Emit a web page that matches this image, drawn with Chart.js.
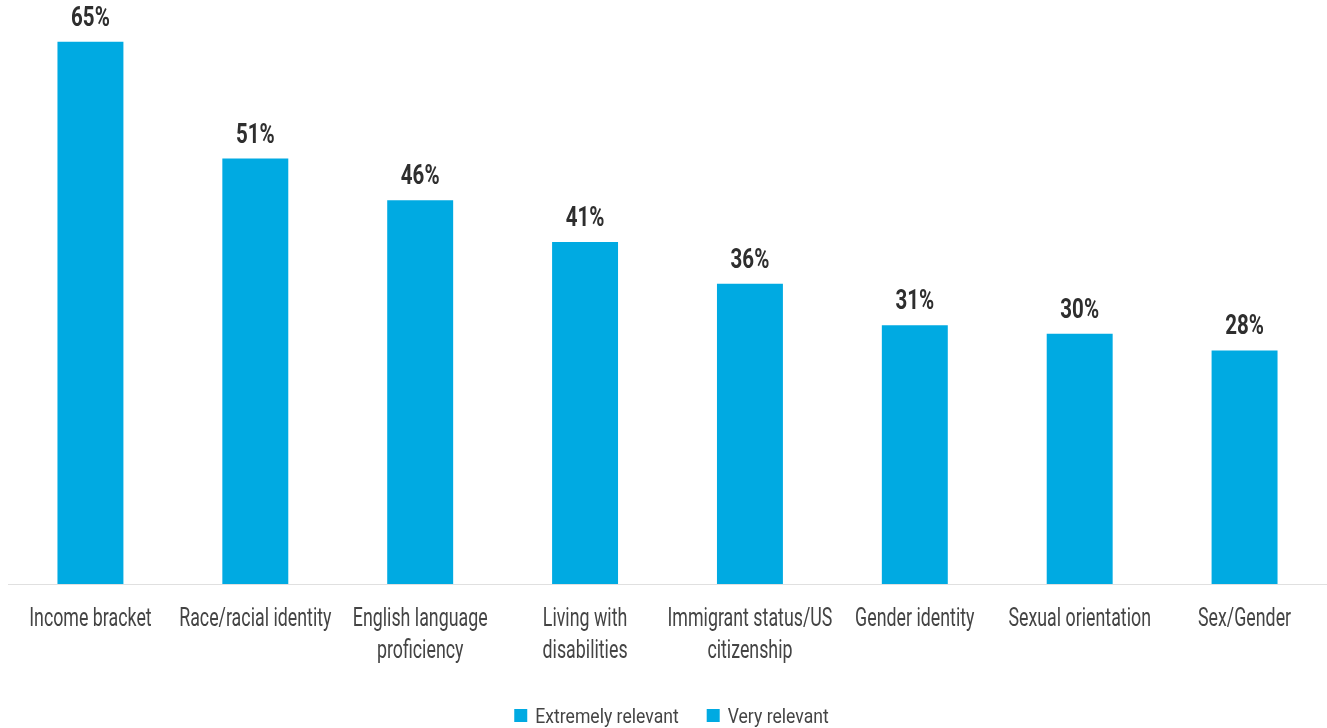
<!DOCTYPE html>
<html>
<head>
<meta charset="utf-8">
<script src="https://cdn.jsdelivr.net/npm/chart.js@4.4.1/dist/chart.umd.min.js"></script>
<style>
  html, body { margin: 0; padding: 0; background: #fff; }
  #wrap { width: 1327px; height: 728px; }
</style>
</head>
<body>
<div id="wrap"><canvas id="chart"></canvas></div>
<script>
// datos
const categorias = [
    'Income bracket',
    'Race/racial identity',
    ['English language', 'proficiency'],
    ['Living with', 'disabilities'],
    ['Immigrant status/US', 'citizenship'],
    'Gender identity',
    'Sexual orientation',
    'Sex/Gender'
];
const valores = [65, 51, 46, 41, 36, 31, 30, 28];
const leyenda = ['Extremely relevant', 'Very relevant'];

const AZUL = '#00aae2';
const FUENTE = "Roboto, 'Liberation Sans', sans-serif";

// texto comprimido horizontalmente (la fuente original es condensada)
function textoEstrecho(ctx, txt, x, y, escala, align) {
    ctx.save();
    ctx.translate(x, y);
    ctx.scale(escala, 1);
    ctx.textAlign = align || 'center';
    ctx.fillText(txt, 0, 0);
    ctx.restore();
}

const etiquetas = {
    id: 'etiquetas',
    afterDraw(chart) {
        const ctx = chart.ctx;
        const meta = chart.getDatasetMeta(0);
        const xs = chart.scales.x;
        ctx.save();
        ctx.textBaseline = 'alphabetic';

        // valores encima de las barras
        ctx.fillStyle = '#2e2e2e';
        ctx.font = 'bold 27px ' + FUENTE;
        meta.data.forEach((bar, i) => {
            textoEstrecho(ctx, valores[i] + '%', bar.x, bar.y - 16, 0.76);
        });

        // categorías
        ctx.fillStyle = '#444';
        ctx.font = '26px ' + FUENTE;
        categorias.forEach((c, i) => {
            const lineas = Array.isArray(c) ? c : [c];
            const x = xs.getPixelForTick(i);
            lineas.forEach((l, j) => {
                textoEstrecho(ctx, l, x, xs.bottom + 42 + j * 32, 0.685);
            });
        });

        // leyenda
        ctx.font = '20px ' + FUENTE;
        const esc = 0.88;
        const anchos = leyenda.map(t => ctx.measureText(t).width * esc);
        const caja = 13, sep = 8, hueco = 28;
        let total = 0;
        anchos.forEach((w, i) => { total += caja + sep + w + (i < anchos.length - 1 ? hueco : 0); });
        let x = chart.width / 2 - total / 2 + 8;
        const y = chart.height - 5;
        leyenda.forEach((t, i) => {
            ctx.fillStyle = AZUL;
            ctx.fillRect(x, y - 14, caja, caja);
            ctx.fillStyle = '#444';
            textoEstrecho(ctx, t, x + caja + sep, y, esc, 'left');
            x += caja + sep + anchos[i] + hueco;
        });
        ctx.restore();
    }
};

new Chart(document.getElementById('chart'), {
    type: 'bar',
    data: {
        labels: categorias,
        datasets: [{
            label: leyenda[0],
            data: valores,
            backgroundColor: AZUL,
            categoryPercentage: 1,
            barPercentage: 0.4
        }]
    },
    options: {
        responsive: true,
        maintainAspectRatio: false,
        animation: false,
        layout: { padding: { left: 8, right: 0, top: 0, bottom: 144 } },
        plugins: {
            legend: { display: false },
            tooltip: { enabled: false }
        },
        scales: {
            x: {
                grid: { display: false, drawTicks: false },
                border: { color: '#e0e0e0', width: 1 },
                ticks: { display: false }
            },
            y: {
                display: false,
                min: 0,
                max: 70
            }
        }
    },
    plugins: [etiquetas]
});
</script>
</body>
</html>
